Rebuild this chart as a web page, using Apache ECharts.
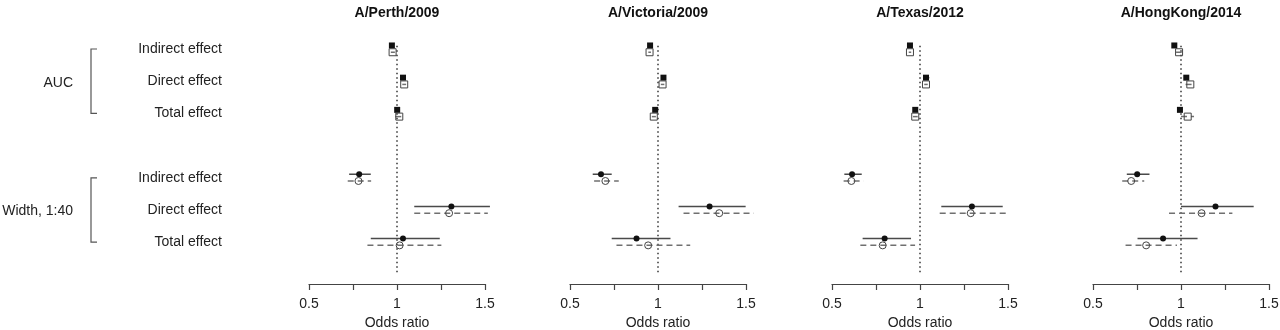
<!DOCTYPE html>
<html><head><meta charset="utf-8">
<script src="https://cdn.jsdelivr.net/npm/echarts@6/dist/echarts.min.js"></script>
<style>html,body{margin:0;padding:0;background:#fff}#c{width:1280px;height:330px}</style>
</head><body><div id="c"></div>
<script>
// ---- data ----
const strains = ['A/Perth/2009', 'A/Victoria/2009', 'A/Texas/2012', 'A/HongKong/2014'];
const effects = ['Indirect effect', 'Direct effect', 'Total effect'];
const groupNames = ['AUC', 'Width, 1:40'];
const groupRows = [[0, 2], [4, 6]];
const rowPos = [0, 1, 2, 4, 5, 6];
const xTickLabels = ['0.5', '1', '1.5'];
const xTickValues = [0.5, 1, 1.5];
const refValue = 1;

// rows: AUC indirect, direct, total, Width indirect, direct, total ; [estimate, lower, upper]
const perthFilled = [[0.971,0.966,0.976],[1.034,1.025,1.043],[1.001,0.993,1.009],[0.785,0.728,0.851],[1.309,1.098,1.528],[1.034,0.851,1.243]];
const perthOpen   = [[0.975,0.965,0.988],[1.041,1.030,1.052],[1.013,0.990,1.037],[0.781,0.720,0.853],[1.296,1.098,1.516],[1.015,0.832,1.252]];
const victoriaFilled = [[0.955,0.950,0.960],[1.031,1.022,1.040],[0.984,0.975,0.993],[0.676,0.629,0.737],[1.293,1.117,1.498],[0.878,0.737,1.071]];
const victoriaOpen   = [[0.952,0.945,0.960],[1.026,1.016,1.036],[0.976,0.965,0.988],[0.701,0.637,0.777],[1.348,1.145,1.544],[0.944,0.764,1.183]];
const texasFilled = [[0.943,0.938,0.948],[1.034,1.021,1.053],[0.973,0.965,0.981],[0.614,0.570,0.669],[1.295,1.121,1.470],[0.799,0.674,0.949]];
const texasOpen   = [[0.943,0.936,0.950],[1.034,1.024,1.044],[0.973,0.960,0.987],[0.610,0.566,0.680],[1.288,1.112,1.506],[0.788,0.661,0.972]];
const hongKongFilled = [[0.962,0.957,0.967],[1.030,1.019,1.042],[0.994,0.985,1.008],[0.751,0.692,0.821],[1.196,1.000,1.413],[0.898,0.753,1.094]];
const hongKongOpen   = [[0.989,0.972,1.004],[1.053,1.026,1.077],[1.038,1.000,1.074],[0.717,0.666,0.791],[1.117,0.932,1.292],[0.802,0.685,0.977]];

const filledByStrain = [perthFilled, victoriaFilled, texasFilled, hongKongFilled];
const openByStrain = [perthOpen, victoriaOpen, texasOpen, hongKongOpen];

// ---- layout / style ----
const FONT = '"Liberation Sans", Arial, sans-serif';
const gridLefts = [309, 570, 832, 1093];
const GRID_W = 176, GRID_TOP = 16.83, GRID_BOTTOM = 46;
const Y_MIN = -1, Y_MAX = 7.3;
const OFF_F = -0.11, OFF_O = 0.1;
const REF_FROM = -0.1, REF_TO = 7.0;
const BRACKET_X = 91, BRACKET_TICK = 6, GROUP_LABEL_X = 73;

const grids = [], xAxes = [], yAxes = [], series = [], titles = [];

function ciRender(style) {
  return function (params, api) {
    const a = api.coord([api.value(1), api.value(3)]);
    const b = api.coord([api.value(2), api.value(3)]);
    return { type: 'line', shape: { x1: a[0], y1: a[1], x2: b[0], y2: b[1] }, style: Object.assign({ fill: null }, style) };
  };
}

strains.forEach(function (name, i) {
  grids.push({ left: gridLefts[i], width: GRID_W, top: GRID_TOP, bottom: GRID_BOTTOM, containLabel: false, outerBoundsMode: 'none' });
  titles.push({ text: name, left: gridLefts[i] + GRID_W / 2, top: 6, textAlign: 'center', padding: 0,
    textStyle: { fontFamily: FONT, fontSize: 14, fontWeight: 'bold', color: '#111' } });
  xAxes.push({
    gridIndex: i, type: 'value', position: 'bottom', min: 0.5, max: 1.5, interval: 0.25,
    axisLine: { onZero: false, lineStyle: { color: '#444', width: 1.2 } },
    axisTick: { length: 6, lineStyle: { color: '#444', width: 1.2 } },
    splitLine: { show: false },
    axisLabel: { showMinLabel: true, showMaxLabel: true, margin: 13, fontSize: 14, color: '#222', fontFamily: FONT,
      formatter: function (v) { const k = xTickValues.findIndex(function (t) { return Math.abs(t - v) < 1e-9; }); return k >= 0 ? xTickLabels[k] : ''; } },
    name: 'Odds ratio', nameLocation: 'middle', nameGap: 32,
    nameTextStyle: { fontSize: 14, color: '#222', fontFamily: FONT }
  });
  yAxes.push({
    gridIndex: i, type: 'value', inverse: true, min: Y_MIN, max: Y_MAX, interval: 1,
    axisLine: { show: false, onZero: false }, axisTick: { show: false }, splitLine: { show: false },
    axisLabel: { show: i === 0, margin: 87, fontSize: 14, color: '#222', fontFamily: FONT, padding: [4, 0, 0, 0],
      formatter: function (v) { const k = rowPos.indexOf(v); return k >= 0 ? effects[k % 3] : ''; } }
  });
  series.push({
    type: 'line', xAxisIndex: i, yAxisIndex: i, silent: true, symbol: 'none', z: 1,
    data: [[refValue, REF_FROM], [refValue, REF_TO]],
    lineStyle: { color: '#333', width: 1.5, type: [1.5, 3] }
  });
  const filled = filledByStrain[i], open = openByStrain[i];
  series.push({
    type: 'custom', xAxisIndex: i, yAxisIndex: i, clip: false, silent: true, z: 2,
    renderItem: ciRender({ stroke: '#4a4a4a', lineWidth: 1.5 }),
    encode: { x: [0, 1, 2], y: 3 },
    data: filled.map(function (d, k) { return [d[0], d[1], d[2], rowPos[k] + OFF_F]; })
  });
  series.push({
    type: 'custom', xAxisIndex: i, yAxisIndex: i, clip: false, silent: true, z: 2,
    renderItem: ciRender({ stroke: '#707070', lineWidth: 1.5, lineDash: [6, 4] }),
    encode: { x: [0, 1, 2], y: 3 },
    data: open.map(function (d, k) { return [d[0], d[1], d[2], rowPos[k] + OFF_O]; })
  });
  series.push({
    type: 'scatter', xAxisIndex: i, yAxisIndex: i, silent: true, z: 3,
    symbol: function (v, p) { return p.dataIndex < 3 ? 'rect' : 'circle'; },
    symbolSize: 6,
    itemStyle: { color: '#111', opacity: 1 },
    data: filled.map(function (d, k) { return [d[0], rowPos[k] + OFF_F]; })
  });
  series.push({
    type: 'scatter', xAxisIndex: i, yAxisIndex: i, silent: true, z: 3,
    symbol: function (v, p) { return p.dataIndex < 3 ? 'rect' : 'circle'; },
    symbolSize: 7,
    itemStyle: { color: 'rgba(255,255,255,0)', borderColor: '#444', borderWidth: 1, opacity: 1 },
    data: open.map(function (d, k) { return [d[0], rowPos[k] + OFF_O]; })
  });
});

// left area: group brackets & labels
const LG = strains.length;
grids.push({ left: 0, width: 300, top: GRID_TOP, bottom: GRID_BOTTOM, containLabel: false, outerBoundsMode: 'none' });
xAxes.push({ gridIndex: LG, type: 'value', min: 0, max: 300, show: false });
yAxes.push({ gridIndex: LG, type: 'value', inverse: true, min: Y_MIN, max: Y_MAX, show: false });
series.push({
  type: 'custom', xAxisIndex: LG, yAxisIndex: LG, clip: false, silent: true,
  encode: { x: -1, y: [0, 1] },
  data: groupRows.map(function (g) { return [g[0], g[1]]; }),
  renderItem: function (params, api) {
    const t = api.coord([BRACKET_X, api.value(0)]);
    const b = api.coord([BRACKET_X, api.value(1)]);
    const m = api.coord([GROUP_LABEL_X, (api.value(0) + api.value(1)) / 2]);
    return { type: 'group', children: [
      { type: 'polyline', shape: { points: [[t[0] + BRACKET_TICK, t[1]], [t[0], t[1]], [b[0], b[1]], [b[0] + BRACKET_TICK, b[1]]] },
        style: { stroke: '#555', lineWidth: 1.2, fill: null } },
      { type: 'text', x: m[0], y: m[1] + 1.5, style: { text: groupNames[params.dataIndex], align: 'right', verticalAlign: 'middle',
        textAlign: 'right', textVerticalAlign: 'middle', fontSize: 14, fontFamily: FONT, fill: '#222' } }
    ] };
  }
});

const chart = echarts.init(document.getElementById('c'), null, { renderer: 'canvas' });
chart.setOption({ animation: false, backgroundColor: '#fff', title: titles, grid: grids, xAxis: xAxes, yAxis: yAxes, series: series });
</script></body></html>
